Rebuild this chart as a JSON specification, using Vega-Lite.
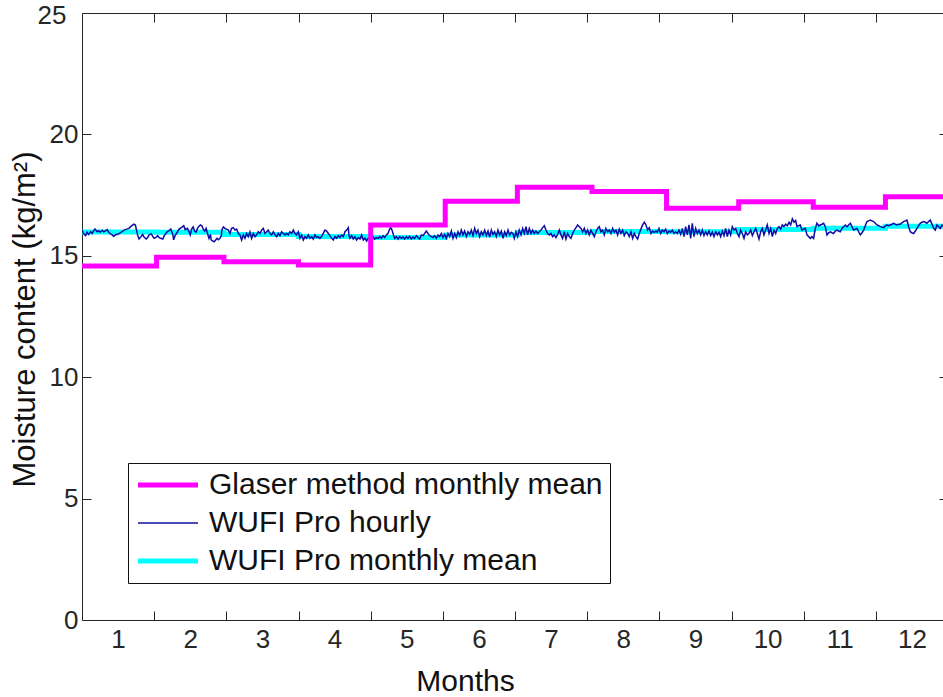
{
  "$schema": "https://vega.github.io/schema/vega-lite/v6.json",
  "autosize": "none",
  "padding": {"left": 82, "top": 13, "right": 0, "bottom": 77},
  "width": 866,
  "height": 607,
  "background": "white",
  "config": {
    "font": "Liberation Sans",
    "view": {"stroke": "#262626", "strokeWidth": 1}
  },
  "datasets": {
    "glaser": [
      {"m": 0.5, "v": 14.58}, {"m": 1.533, "v": 14.94}, {"m": 2.467, "v": 14.76},
      {"m": 3.5, "v": 14.62}, {"m": 4.5, "v": 16.27}, {"m": 5.533, "v": 17.25},
      {"m": 6.533, "v": 17.82}, {"m": 7.567, "v": 17.65}, {"m": 8.6, "v": 16.96},
      {"m": 9.6, "v": 17.23}, {"m": 10.633, "v": 17.0}, {"m": 11.633, "v": 17.43},
      {"m": 12.667, "v": 17.43}
    ],
    "wufiMean": [
      {"m": 0.5, "v": 15.98}, {"m": 1.533, "v": 15.97}, {"m": 2.467, "v": 15.88},
      {"m": 3.5, "v": 15.79}, {"m": 4.5, "v": 15.75}, {"m": 5.533, "v": 15.86},
      {"m": 6.533, "v": 15.96}, {"m": 7.567, "v": 16.0}, {"m": 8.6, "v": 15.99},
      {"m": 9.6, "v": 16.08}, {"m": 10.633, "v": 16.13}, {"m": 11.633, "v": 16.22},
      {"m": 12.667, "v": 16.22}
    ],
    "hourly": [
      {"m":0.5,"v":16.06},{"m":0.52,"v":15.92},{"m":0.55,"v":15.83},{"m":0.57,"v":15.97},{"m":0.59,"v":15.88},
      {"m":0.62,"v":15.99},{"m":0.64,"v":15.92},{"m":0.66,"v":16.02},{"m":0.68,"v":16.10},{"m":0.71,"v":15.99},
      {"m":0.73,"v":16.03},{"m":0.75,"v":15.97},{"m":0.78,"v":16.05},{"m":0.80,"v":15.99},{"m":0.82,"v":16.02},
      {"m":0.85,"v":16.08},{"m":0.87,"v":15.97},{"m":0.89,"v":15.91},{"m":0.92,"v":15.86},{"m":0.94,"v":15.80},
      {"m":0.96,"v":15.86},{"m":0.98,"v":15.88},{"m":1.01,"v":15.91},{"m":1.03,"v":15.94},{"m":1.05,"v":15.99},
      {"m":1.08,"v":16.05},{"m":1.10,"v":16.08},{"m":1.12,"v":16.10},{"m":1.15,"v":16.13},{"m":1.17,"v":16.19},
      {"m":1.19,"v":16.24},{"m":1.22,"v":16.30},{"m":1.24,"v":16.27},{"m":1.25,"v":16.13},{"m":1.27,"v":15.86},
      {"m":1.29,"v":15.69},{"m":1.32,"v":15.80},{"m":1.34,"v":15.88},{"m":1.36,"v":15.77},{"m":1.39,"v":15.69},
      {"m":1.41,"v":15.75},{"m":1.43,"v":15.86},{"m":1.46,"v":15.91},{"m":1.48,"v":15.80},{"m":1.50,"v":15.72},
      {"m":1.53,"v":15.77},{"m":1.55,"v":15.83},{"m":1.57,"v":15.75},{"m":1.59,"v":15.72},{"m":1.62,"v":15.69},
      {"m":1.64,"v":15.83},{"m":1.66,"v":15.91},{"m":1.68,"v":15.99},{"m":1.71,"v":16.05},{"m":1.73,"v":16.10},
      {"m":1.76,"v":15.86},{"m":1.77,"v":15.66},{"m":1.79,"v":15.83},{"m":1.82,"v":15.97},{"m":1.84,"v":16.08},
      {"m":1.86,"v":16.13},{"m":1.89,"v":16.19},{"m":1.91,"v":16.24},{"m":1.93,"v":16.08},{"m":1.96,"v":16.13},
      {"m":1.98,"v":16.02},{"m":2.00,"v":15.86},{"m":2.02,"v":16.10},{"m":2.04,"v":16.19},{"m":2.06,"v":16.02},
      {"m":2.08,"v":15.97},{"m":2.10,"v":16.13},{"m":2.12,"v":16.21},{"m":2.14,"v":16.27},{"m":2.16,"v":16.24},
      {"m":2.18,"v":16.10},{"m":2.20,"v":16.02},{"m":2.22,"v":16.13},{"m":2.24,"v":15.91},{"m":2.26,"v":15.72},
      {"m":2.28,"v":15.88},{"m":2.29,"v":15.66},{"m":2.31,"v":15.61},{"m":2.33,"v":15.58},{"m":2.35,"v":15.64},
      {"m":2.37,"v":15.72},{"m":2.39,"v":15.66},{"m":2.41,"v":15.72},{"m":2.43,"v":15.83},{"m":2.44,"v":16.08},
      {"m":2.46,"v":16.19},{"m":2.48,"v":16.13},{"m":2.50,"v":16.10},
      {"m":2.527,"v":16.06},{"m":2.55,"v":15.92},{"m":2.573,"v":16.13},{"m":2.596,"v":16.16},{"m":2.62,"v":16.06},
      {"m":2.643,"v":16.10},{"m":2.666,"v":15.92},{"m":2.689,"v":15.86},{"m":2.712,"v":15.65},{"m":2.735,"v":15.86},
      {"m":2.758,"v":15.72},{"m":2.781,"v":15.92},{"m":2.804,"v":15.79},{"m":2.827,"v":15.99},{"m":2.85,"v":15.72},
      {"m":2.874,"v":15.92},{"m":2.897,"v":15.79},{"m":2.92,"v":15.86},{"m":2.943,"v":15.99},{"m":2.966,"v":15.92},
      {"m":2.989,"v":16.06},{"m":3.012,"v":16.13},{"m":3.035,"v":15.92},{"m":3.058,"v":15.99},{"m":3.081,"v":16.06},
      {"m":3.104,"v":15.92},{"m":3.128,"v":15.86},{"m":3.151,"v":15.99},{"m":3.174,"v":15.86},{"m":3.197,"v":15.79},
      {"m":3.22,"v":15.92},{"m":3.243,"v":15.83},{"m":3.266,"v":15.99},{"m":3.289,"v":15.92},{"m":3.312,"v":15.86},
      {"m":3.335,"v":15.92},{"m":3.359,"v":15.86},{"m":3.382,"v":15.99},{"m":3.405,"v":15.92},{"m":3.428,"v":16.06},
      {"m":3.451,"v":15.92},{"m":3.474,"v":15.86},{"m":3.497,"v":15.99},{"m":3.52,"v":15.72},{"m":3.543,"v":15.86},
      {"m":3.567,"v":15.65},{"m":3.59,"v":15.79},{"m":3.613,"v":15.72},{"m":3.636,"v":15.86},{"m":3.659,"v":15.72},
      {"m":3.682,"v":15.79},{"m":3.705,"v":15.69},{"m":3.728,"v":15.86},{"m":3.751,"v":15.75},{"m":3.774,"v":15.79},
      {"m":3.797,"v":15.72},{"m":3.82,"v":15.79},{"m":3.843,"v":15.92},{"m":3.867,"v":16.06},{"m":3.89,"v":16.02},
      {"m":3.913,"v":15.92},{"m":3.936,"v":15.83},{"m":3.959,"v":15.72},{"m":3.982,"v":15.65},{"m":4.005,"v":15.79},
      {"m":4.028,"v":15.72},{"m":4.051,"v":15.83},{"m":4.075,"v":15.75},{"m":4.098,"v":15.86},{"m":4.121,"v":15.79},
      {"m":4.144,"v":15.99},{"m":4.167,"v":16.06},{"m":4.19,"v":16.16},{"m":4.2,"v":15.83},{"m":4.213,"v":15.72},
      {"m":4.236,"v":15.83},{"m":4.259,"v":15.69},{"m":4.282,"v":15.79},{"m":4.305,"v":15.65},{"m":4.329,"v":15.75},
      {"m":4.352,"v":15.69},{"m":4.375,"v":15.86},{"m":4.398,"v":15.65},{"m":4.421,"v":15.72},{"m":4.444,"v":15.61},
      {"m":4.467,"v":15.72},
      {"m":4.509,"v":15.72},{"m":4.532,"v":15.79},{"m":4.555,"v":15.69},{"m":4.578,"v":15.75},{"m":4.602,"v":15.72},
      {"m":4.625,"v":15.79},{"m":4.648,"v":15.72},{"m":4.671,"v":15.83},{"m":4.694,"v":15.75},{"m":4.717,"v":15.86},
      {"m":4.74,"v":15.92},{"m":4.763,"v":16.10},{"m":4.777,"v":16.16},{"m":4.796,"v":16.06},{"m":4.814,"v":15.88},
      {"m":4.833,"v":15.72},{"m":4.856,"v":15.79},{"m":4.879,"v":15.69},{"m":4.902,"v":15.79},{"m":4.925,"v":15.72},
      {"m":4.948,"v":15.77},{"m":4.971,"v":15.69},{"m":4.994,"v":15.79},{"m":5.017,"v":15.72},{"m":5.04,"v":15.80},
      {"m":5.063,"v":15.69},{"m":5.087,"v":15.77},{"m":5.11,"v":15.72},{"m":5.133,"v":15.83},{"m":5.156,"v":15.75},
      {"m":5.179,"v":15.69},{"m":5.202,"v":15.86},{"m":5.225,"v":15.83},{"m":5.248,"v":15.92},{"m":5.271,"v":16.02},
      {"m":5.294,"v":15.92},{"m":5.317,"v":15.83},{"m":5.341,"v":15.79},{"m":5.364,"v":15.75},{"m":5.387,"v":15.83},
      {"m":5.41,"v":15.72},{"m":5.433,"v":15.86},{"m":5.456,"v":15.79},{"m":5.479,"v":15.92},{"m":5.502,"v":15.75},
      {"m":5.525,"v":15.88},{"m":5.548,"v":15.72},{"m":5.571,"v":15.92},{"m":5.595,"v":15.79},{"m":5.618,"v":16.02},
      {"m":5.641,"v":15.72},{"m":5.664,"v":15.92},{"m":5.687,"v":15.75},{"m":5.71,"v":15.99},{"m":5.733,"v":15.83},
      {"m":5.756,"v":16.06},{"m":5.779,"v":15.86},{"m":5.802,"v":16.02},{"m":5.826,"v":15.79},{"m":5.849,"v":15.99},
      {"m":5.872,"v":15.88},{"m":5.895,"v":16.06},{"m":5.918,"v":15.83},{"m":5.941,"v":16.13},{"m":5.964,"v":15.92},
      {"m":5.987,"v":16.06},{"m":6.01,"v":15.79},{"m":6.033,"v":15.99},{"m":6.056,"v":15.86},{"m":6.08,"v":16.06},
      {"m":6.103,"v":15.83},{"m":6.126,"v":16.02},{"m":6.149,"v":15.77},{"m":6.172,"v":16.06},{"m":6.195,"v":15.88},
      {"m":6.218,"v":15.99},{"m":6.241,"v":15.79},{"m":6.264,"v":16.06},{"m":6.287,"v":15.86},{"m":6.311,"v":16.02},
      {"m":6.334,"v":15.72},{"m":6.357,"v":15.99},{"m":6.38,"v":15.83},{"m":6.403,"v":16.06},{"m":6.426,"v":15.86},
      {"m":6.449,"v":15.97},{"m":6.472,"v":15.92},
      {"m":6.49,"v":15.72},{"m":6.513,"v":15.99},{"m":6.536,"v":15.79},{"m":6.559,"v":16.06},{"m":6.583,"v":15.86},
      {"m":6.606,"v":16.13},{"m":6.629,"v":15.92},{"m":6.652,"v":16.20},{"m":6.675,"v":15.86},{"m":6.698,"v":16.13},
      {"m":6.721,"v":15.92},{"m":6.744,"v":16.06},{"m":6.767,"v":15.92},{"m":6.79,"v":16.02},{"m":6.814,"v":15.92},
      {"m":6.837,"v":15.99},{"m":6.86,"v":16.06},{"m":6.883,"v":16.16},{"m":6.906,"v":16.24},{"m":6.929,"v":16.06},
      {"m":6.952,"v":15.92},{"m":6.975,"v":15.86},{"m":6.998,"v":15.92},{"m":7.021,"v":15.79},{"m":7.044,"v":15.86},
      {"m":7.068,"v":15.75},{"m":7.091,"v":15.88},{"m":7.114,"v":16.06},{"m":7.137,"v":15.86},{"m":7.16,"v":15.72},
      {"m":7.183,"v":15.99},{"m":7.206,"v":15.69},{"m":7.229,"v":15.92},{"m":7.252,"v":15.79},{"m":7.275,"v":15.72},
      {"m":7.299,"v":15.92},{"m":7.322,"v":16.06},{"m":7.345,"v":16.16},{"m":7.368,"v":16.27},{"m":7.391,"v":16.20},
      {"m":7.414,"v":16.13},{"m":7.437,"v":15.99},{"m":7.46,"v":16.13},{"m":7.483,"v":15.92},{"m":7.506,"v":16.06},
      {"m":7.529,"v":15.86},{"m":7.553,"v":16.06},{"m":7.576,"v":15.92},{"m":7.599,"v":15.79},{"m":7.622,"v":15.99},
      {"m":7.645,"v":16.13},{"m":7.668,"v":16.20},{"m":7.691,"v":15.99},{"m":7.714,"v":16.06},{"m":7.737,"v":15.86},
      {"m":7.76,"v":16.13},{"m":7.784,"v":15.99},{"m":7.807,"v":16.06},{"m":7.83,"v":15.92},{"m":7.853,"v":16.13},
      {"m":7.876,"v":15.97},{"m":7.899,"v":16.06},{"m":7.922,"v":15.86},{"m":7.945,"v":16.10},{"m":7.968,"v":15.92},
      {"m":7.991,"v":16.06},{"m":8.014,"v":15.83},{"m":8.038,"v":15.99},{"m":8.061,"v":15.92},{"m":8.084,"v":15.79},
      {"m":8.107,"v":15.99},{"m":8.13,"v":15.72},{"m":8.153,"v":15.92},{"m":8.176,"v":15.79},{"m":8.199,"v":15.69},
      {"m":8.222,"v":15.92},{"m":8.245,"v":16.10},{"m":8.269,"v":16.27},{"m":8.292,"v":16.38},{"m":8.315,"v":16.27},
      {"m":8.338,"v":16.06},{"m":8.361,"v":16.16},{"m":8.384,"v":15.92},{"m":8.407,"v":16.02},{"m":8.43,"v":15.97},
      {"m":8.453,"v":16.02},
      {"m":8.472,"v":15.97},{"m":8.495,"v":16.13},{"m":8.518,"v":15.92},{"m":8.541,"v":16.06},{"m":8.565,"v":15.99},
      {"m":8.588,"v":16.10},{"m":8.611,"v":15.92},{"m":8.634,"v":16.02},{"m":8.657,"v":15.97},{"m":8.68,"v":16.06},
      {"m":8.703,"v":15.92},{"m":8.726,"v":15.99},{"m":8.749,"v":15.92},{"m":8.772,"v":16.06},{"m":8.796,"v":15.88},
      {"m":8.819,"v":16.13},{"m":8.842,"v":15.79},{"m":8.865,"v":16.20},{"m":8.888,"v":15.86},{"m":8.911,"v":16.27},
      {"m":8.934,"v":15.72},{"m":8.957,"v":16.34},{"m":8.98,"v":15.79},{"m":9.003,"v":16.13},{"m":9.026,"v":15.92},
      {"m":9.05,"v":16.06},{"m":9.073,"v":15.86},{"m":9.096,"v":16.06},{"m":9.119,"v":15.83},{"m":9.142,"v":15.99},
      {"m":9.165,"v":15.86},{"m":9.188,"v":16.02},{"m":9.211,"v":15.83},{"m":9.234,"v":15.97},{"m":9.257,"v":15.79},
      {"m":9.281,"v":15.99},{"m":9.304,"v":15.86},{"m":9.327,"v":15.97},{"m":9.35,"v":15.79},{"m":9.373,"v":16.02},
      {"m":9.396,"v":15.83},{"m":9.419,"v":16.13},{"m":9.442,"v":15.79},{"m":9.465,"v":16.06},{"m":9.488,"v":15.86},
      {"m":9.511,"v":16.20},{"m":9.535,"v":16.06},{"m":9.558,"v":16.13},{"m":9.581,"v":15.92},{"m":9.604,"v":15.79},
      {"m":9.627,"v":16.06},{"m":9.65,"v":15.92},{"m":9.673,"v":15.72},{"m":9.696,"v":15.99},{"m":9.719,"v":15.86},
      {"m":9.742,"v":15.92},{"m":9.766,"v":16.06},{"m":9.789,"v":15.83},{"m":9.812,"v":15.99},{"m":9.835,"v":16.13},
      {"m":9.858,"v":15.92},{"m":9.881,"v":15.69},{"m":9.904,"v":15.99},{"m":9.927,"v":16.13},{"m":9.95,"v":15.86},
      {"m":9.973,"v":16.06},{"m":9.996,"v":16.27},{"m":10.02,"v":15.92},{"m":10.043,"v":16.13},{"m":10.066,"v":15.79},
      {"m":10.089,"v":16.06},{"m":10.112,"v":15.92},{"m":10.135,"v":16.13},{"m":10.158,"v":16.20},{"m":10.181,"v":16.10},
      {"m":10.204,"v":16.27},{"m":10.227,"v":16.20},{"m":10.25,"v":16.30},{"m":10.273,"v":16.24},{"m":10.297,"v":16.38},
      {"m":10.32,"v":16.27},{"m":10.343,"v":16.52},{"m":10.366,"v":16.38},{"m":10.389,"v":16.45},
      {"m":10.407,"v":16.20},{"m":10.43,"v":16.24},{"m":10.453,"v":16.27},{"m":10.476,"v":16.06},{"m":10.5,"v":16.10},
      {"m":10.522,"v":16.13},{"m":10.546,"v":15.86},{"m":10.57,"v":15.79},{"m":10.592,"v":15.72},{"m":10.615,"v":15.79},
      {"m":10.638,"v":15.72},{"m":10.661,"v":16.13},{"m":10.684,"v":16.34},{"m":10.707,"v":16.24},{"m":10.73,"v":16.27},
      {"m":10.754,"v":16.30},{"m":10.777,"v":16.34},{"m":10.8,"v":16.20},{"m":10.823,"v":15.86},{"m":10.846,"v":15.95},
      {"m":10.869,"v":15.99},{"m":10.892,"v":15.95},{"m":10.915,"v":15.92},{"m":10.938,"v":16.02},{"m":10.961,"v":16.06},
      {"m":10.984,"v":16.02},{"m":11.007,"v":15.99},{"m":11.031,"v":16.13},{"m":11.054,"v":16.20},{"m":11.077,"v":16.27},
      {"m":11.1,"v":16.20},{"m":11.123,"v":16.27},{"m":11.146,"v":16.34},{"m":11.169,"v":16.20},{"m":11.192,"v":16.06},
      {"m":11.215,"v":16.10},{"m":11.238,"v":16.13},{"m":11.262,"v":15.99},{"m":11.285,"v":15.86},{"m":11.308,"v":15.95},
      {"m":11.331,"v":16.06},{"m":11.354,"v":16.24},{"m":11.377,"v":16.41},{"m":11.4,"v":16.44},{"m":11.423,"v":16.47},
      {"m":11.446,"v":16.44},{"m":11.469,"v":16.41},{"m":11.493,"v":16.34},{"m":11.516,"v":16.27},{"m":11.539,"v":16.24},
      {"m":11.562,"v":16.20},{"m":11.585,"v":16.18},{"m":11.608,"v":16.16},{"m":11.631,"v":16.22},{"m":11.654,"v":16.27},
      {"m":11.677,"v":16.24},{"m":11.7,"v":16.27},{"m":11.723,"v":16.30},{"m":11.746,"v":16.34},{"m":11.77,"v":16.30},
      {"m":11.793,"v":16.27},{"m":11.816,"v":16.30},{"m":11.839,"v":16.30},{"m":11.862,"v":16.36},{"m":11.885,"v":16.41},
      {"m":11.908,"v":16.44},{"m":11.931,"v":16.47},{"m":11.954,"v":16.20},{"m":11.977,"v":15.99},{"m":12.0,"v":15.95},
      {"m":12.024,"v":15.92},{"m":12.047,"v":16.02},{"m":12.07,"v":16.13},{"m":12.093,"v":16.24},{"m":12.116,"v":16.34},
      {"m":12.139,"v":16.38},{"m":12.162,"v":16.41},{"m":12.185,"v":16.38},{"m":12.208,"v":16.34},{"m":12.231,"v":16.41},
      {"m":12.255,"v":16.47},{"m":12.278,"v":16.30},{"m":12.301,"v":16.13},{"m":12.324,"v":16.06},{"m":12.347,"v":16.27},
      {"m":12.37,"v":16.20},{"m":12.393,"v":16.13},{"m":12.416,"v":16.27},{"m":12.44,"v":16.20},{"m":12.48,"v":16.25}
    ]
  },
  "resolve": {"axis": {"x": "independent", "y": "independent"}},
  "layer": [
    {
      "data": {"name": "wufiMean"},
      "mark": {"type": "line", "interpolate": "step-after", "strokeWidth": 5, "clip": true},
      "encoding": {
        "x": {
          "field": "m", "type": "quantitative",
          "scale": {"domain": [0.5, 12.5], "nice": false, "zero": false},
          "axis": {
            "orient": "bottom",
            "values": [1.5, 2.5, 3.5, 4.5, 5.5, 6.5, 7.5, 8.5, 9.5, 10.5, 11.5, 12.5],
            "labelExpr": "format(datum.value - 0.5, 'd')",
            "labelOffset": -36.08,
            "labelFlush": false,
            "labelOverlap": false,
            "labelBound": false,
            "labelFontSize": 26,
            "labelFont": "Liberation Sans",
            "labelColor": "#262626",
            "labelPadding": 15,
            "tickSize": -9,
            "tickColor": "#262626",
            "domain": false,
            "grid": false,
            "title": "Months",
            "titleFont": "Liberation Sans",
            "titleFontSize": 30,
            "titleFontWeight": "normal",
            "titleColor": "#111111",
            "titleX": 383,
            "titleY": 70,
            "titleBaseline": "alphabetic",
            "titleAlign": "center"
          }
        },
        "y": {
          "field": "v", "type": "quantitative",
          "scale": {"domain": [0, 25], "nice": false, "zero": false},
          "axis": {
            "orient": "left",
            "values": [0, 5, 10, 15, 20, 25],
            "labelFontSize": 26,
            "labelFont": "Liberation Sans",
            "labelColor": "#262626",
            "labelPadding": {"condition": {"test": "datum.value === 25", "value": 25}, "value": 13},
            "labelOffset": {"condition": {"test": "datum.value === 25", "value": 2}, "value": 0},
            "tickSize": -9,
            "tickColor": "#262626",
            "domain": false,
            "grid": false,
            "title": "Moisture content (kg/m²)",
            "titleFont": "Liberation Sans",
            "titleFontSize": 31,
            "titleFontWeight": "normal",
            "titleColor": "#111111",
            "titleAngle": -90,
            "titleX": -48,
            "titleY": 306,
            "titleBaseline": "alphabetic",
            "titleAlign": "center"
          }
        },
        "color": {
          "datum": "WUFI Pro monthly mean", "type": "nominal",
          "scale": {
            "domain": ["Glaser method monthly mean", "WUFI Pro hourly", "WUFI Pro monthly mean"],
            "range": ["#ff00ff", "#0c0ca6", "#00ffff"]
          },
          "legend": {
            "title": null,
            "orient": "none",
            "legendX": 46,
            "legendY": 450,
            "padding": 7,
            "strokeColor": "#111111",
            "fillColor": "white",
            "symbolType": "M-3,0H3",
            "symbolSize": 400,
            "symbolOffset": 18,
            "labelOffset": 26,
            "labelFont": "Liberation Sans",
            "labelFontSize": 30,
            "labelColor": "#111111",
            "labelLimit": 600,
            "rowPadding": 8,
            "encode": {
              "symbols": {
                "update": {
                  "strokeWidth": {"signal": "datum.value === 'WUFI Pro hourly' ? 1.5 : 5"}
                }
              }
            }
          }
        }
      }
    },
    {
      "data": {"name": "hourly"},
      "mark": {"type": "line", "strokeWidth": 1.5, "clip": true},
      "encoding": {
        "x": {
          "field": "m", "type": "quantitative",
          "axis": {
            "orient": "top",
            "values": [1.5, 2.5, 3.5, 4.5, 5.5, 6.5, 7.5, 8.5, 9.5, 10.5, 11.5],
            "labels": false,
            "tickSize": -9,
            "tickColor": "#262626",
            "domain": false,
            "grid": false,
            "title": null
          }
        },
        "y": {
          "field": "v", "type": "quantitative",
          "axis": {
            "orient": "right",
            "values": [5, 10, 15, 20],
            "labels": false,
            "tickSize": -9,
            "tickColor": "#262626",
            "domain": false,
            "grid": false,
            "title": null
          }
        },
        "color": {"datum": "WUFI Pro hourly", "type": "nominal"}
      }
    },
    {
      "data": {"name": "glaser"},
      "mark": {"type": "line", "interpolate": "step-after", "strokeWidth": 5, "clip": true},
      "encoding": {
        "x": {"field": "m", "type": "quantitative", "axis": null},
        "y": {"field": "v", "type": "quantitative", "axis": null},
        "color": {"datum": "Glaser method monthly mean", "type": "nominal"}
      }
    }
  ]
}
